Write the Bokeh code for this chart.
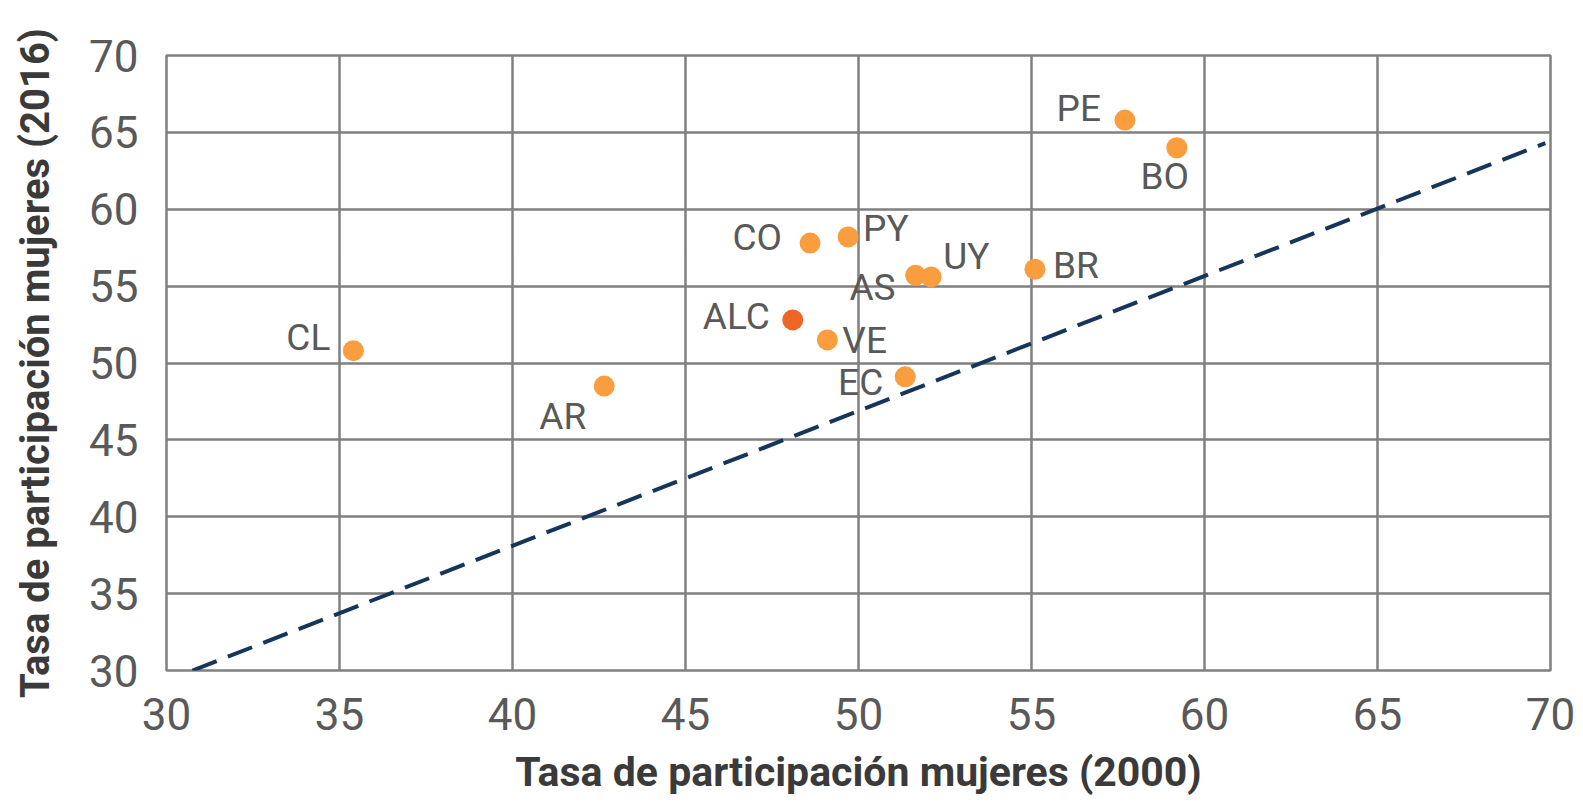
from bokeh.plotting import figure
from bokeh.models import ColumnDataSource, Range1d, FixedTicker
from bokeh.core.properties import value
from bokeh.embed import file_html
from bokeh.resources import INLINE

# ---- data ----
countries = ["PE", "BO", "CO", "PY", "AS", "UY", "BR", "ALC", "VE", "EC", "CL", "AR"]
rate_2000 = [57.7, 59.2, 48.6, 49.7, 51.65, 52.1, 55.1, 48.1, 49.1, 51.35, 35.4, 42.65]
rate_2016 = [65.8, 64.0, 57.8, 58.2, 55.7, 55.6, 56.1, 52.8, 51.5, 49.1, 50.8, 48.5]
trend_x = [30.75, 69.85]
trend_y = [30.0, 64.3]
ticks = [30, 35, 40, 45, 50, 55, 60, 65, 70]

# ---- label layout (screen px) ----
label_dx = {"PE": -24, "BO": -12, "CO": -28, "PY": 15, "AS": -20, "UY": 12, "BR": 18,
            "ALC": -23, "VE": 15, "EC": -22, "CL": -23, "AR": -18}
label_dy = {"PE": -12, "BO": 29, "CO": -6, "PY": -8, "AS": 12, "UY": -20, "BR": -4,
            "ALC": -3, "VE": 1, "EC": 6, "CL": -13, "AR": 30}
label_align = {"PE": "right", "BO": "center", "CO": "right", "PY": "left", "AS": "right",
               "UY": "left", "BR": "left", "ALC": "right", "VE": "left", "EC": "right",
               "CL": "right", "AR": "right"}

ORANGE = "#F99D3E"
ALC_COLOR = "#EF6526"
GRID = "#808080"
TXT = "#595959"

colors = [ALC_COLOR if c == "ALC" else ORANGE for c in countries]

src = ColumnDataSource(dict(
    x=rate_2000, y=rate_2016, name=countries, color=colors,
    dx=[label_dx[c] for c in countries],
    dy=[label_dy[c] for c in countries],
    align=[label_align[c] for c in countries],
))

p = figure(width=1575, height=800, output_backend="svg", toolbar_location=None,
           x_range=Range1d(30, 70), y_range=Range1d(30, 70),
           frame_width=1384, frame_height=615,
           min_border_left=166, min_border_right=25, min_border_top=55, min_border_bottom=130)

p.background_fill_color = "white"
p.border_fill_color = "white"
p.outline_line_color = GRID
p.outline_line_width = 2.5

for ax in (p.xaxis[0], p.yaxis[0]):
    ax.ticker = FixedTicker(ticks=ticks)
    ax.axis_line_color = None
    ax.major_tick_line_color = None
    ax.minor_tick_line_color = None
    ax.major_label_text_font = "Roboto"
    ax.major_label_text_font_size = "44px"
    ax.major_label_text_color = TXT
    ax.axis_label_text_font = "Roboto"
    ax.axis_label_text_font_style = "bold"
    ax.axis_label_text_color = "#3a3a3a"

p.xaxis.axis_label_text_font_size = "41px"
p.yaxis.axis_label_text_font_size = "40px"
p.xaxis.axis_label = "Tasa de participación mujeres (2000)"
p.yaxis.axis_label = "Tasa de participación mujeres (2016)"
p.xaxis.major_label_standoff = 21
p.yaxis.major_label_standoff = 22
p.xaxis.axis_label_standoff = 15
p.yaxis.axis_label_standoff = 27

p.xgrid.ticker = FixedTicker(ticks=ticks)
p.ygrid.ticker = FixedTicker(ticks=ticks)
p.grid.grid_line_color = GRID
p.grid.grid_line_width = 2.5

p.line(trend_x, trend_y, line_color="#15355A", line_width=4, line_dash="26 12")

p.scatter("x", "y", source=src, size=21, fill_color="color", line_color=None)

p.text("x", "y", text="name", source=src, x_offset="dx", y_offset="dy",
       text_align="align", text_baseline="middle",
       text_font=value("Roboto"), text_font_size="37px", text_color=TXT)

open("out.html", "w").write(file_html(p, INLINE))
